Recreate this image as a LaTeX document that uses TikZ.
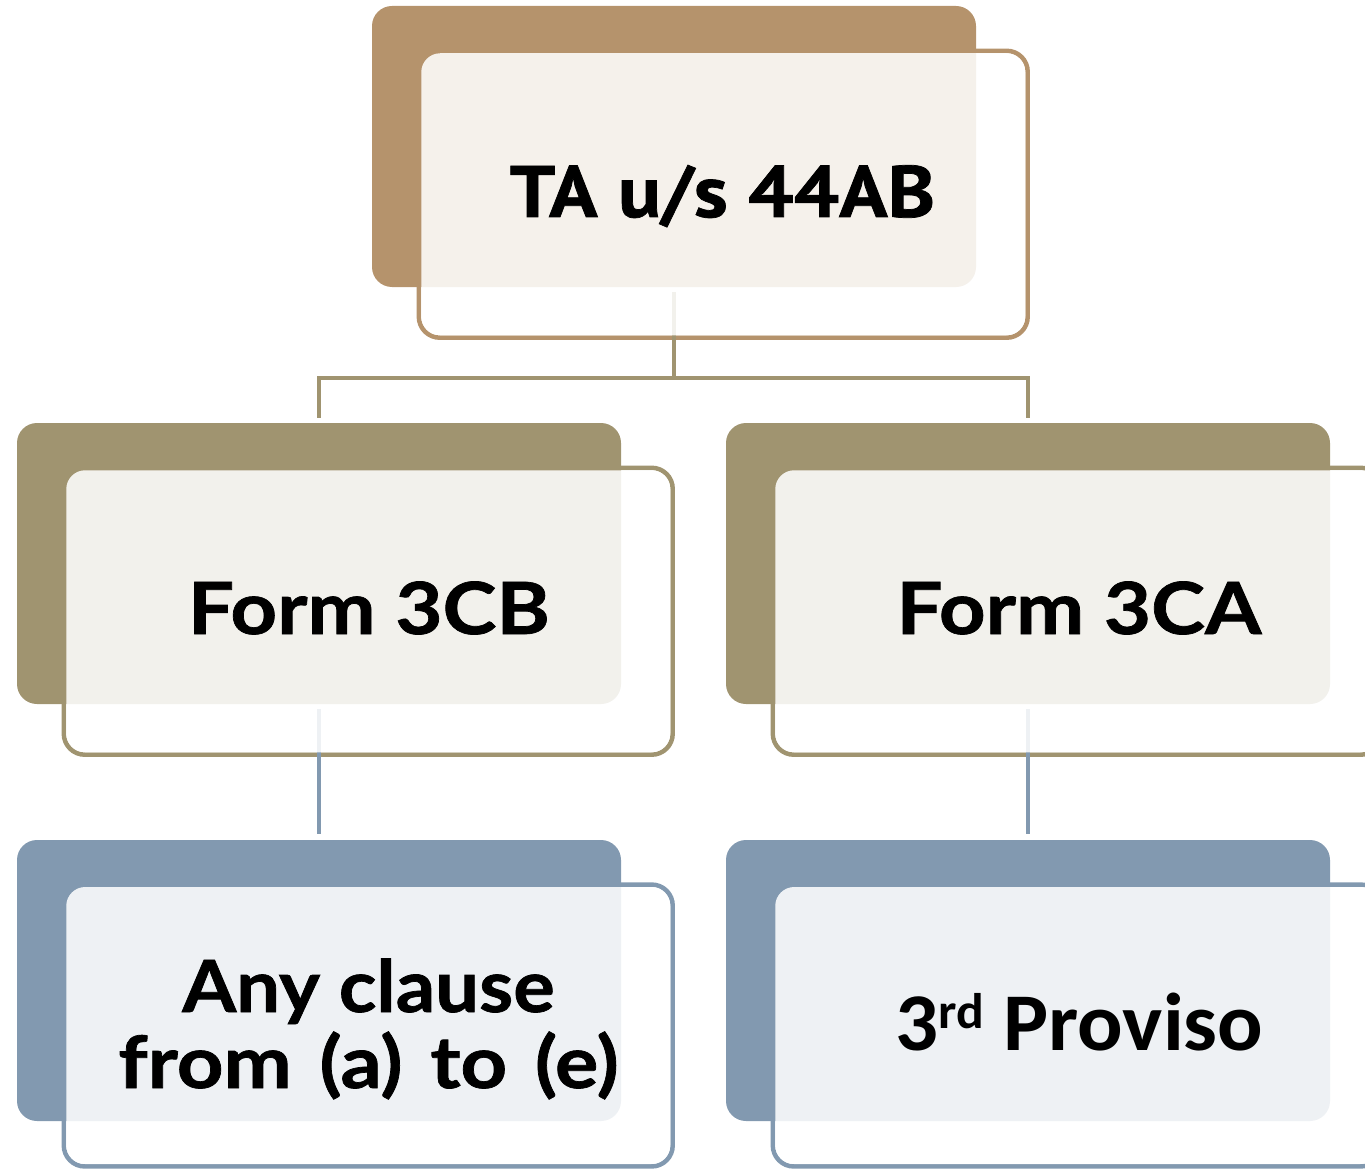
\documentclass[tikz,border=0pt]{standalone}
\usepackage{fontspec}
\setmainfont{Lato}
\newfontfamily\ptwide{PT Sans}[FakeStretch=1.1, BoldFeatures={FakeBold=1}]
\newfontfamily\latowide{Lato}[FakeStretch=1.13, BoldFeatures={FakeBold=1}]
\newfontfamily\latomid{Lato}[FakeStretch=1.08, BoldFeatures={FakeBold=1}]
\newfontfamily\carlwide{Carlito}[FakeStretch=1.035]
\usetikzlibrary{calc}
\definecolor{brownc}{RGB}{181,147,108}
\definecolor{olivec}{RGB}{160,148,112}
\definecolor{bluec}{RGB}{130,153,176}
\pgfdeclarelayer{borders}
\pgfdeclarelayer{backs}
\pgfdeclarelayer{links}
\pgfsetlayers{borders,backs,links,main}
\begin{document}
\begin{tikzpicture}[x=1pt,y=-1pt,
  backbox/.style={rectangle, rounded corners=20pt, minimum width=604pt, minimum height=281pt, inner sep=0pt, draw=none},
  frontbox/.style={rectangle, rounded corners=19pt, minimum width=604pt, minimum height=282pt, inner sep=0pt, fill=white, fill opacity=0.87, draw=none},
  frame/.style={line width=4.5pt, rounded corners=21pt},
  link/.style={line width=4.5pt},
  txt/.style={inner sep=0pt, anchor=base, text=black, font=\bfseries}
]
\useasboundingbox (0,0) rectangle (1365,1169);
\clip (0,0) rectangle (1365,1169);

% fronts (tinted, on main layer)
\node[frontbox] (f1) at (723.25,194.25) {};
\node[frontbox] (f2) at (368.25,611.25) {};
\node[frontbox] (f3) at (1077.25,611.25) {};
\node[frontbox, minimum height=277pt] (f4) at (368.25,1025.5) {};
\node[frontbox, minimum height=277pt] (f5) at (1077.25,1025.5) {};

% borders of fronts (bottom layer)
\begin{pgfonlayer}{borders}
\draw[frame, brownc] ($(f1.north west)+(-2.25,-2.25)$) rectangle ($(f1.south east)+(2.25,2.25)$);
\draw[frame, olivec] ($(f2.north west)+(-2.25,-2.25)$) rectangle ($(f2.south east)+(2.25,2.25)$);
\draw[frame, olivec] ($(f3.north west)+(-2.25,-2.25)$) rectangle ($(f3.south east)+(2.25,2.25)$);
\draw[frame, bluec] ($(f4.north west)+(-2.25,-2.25)$) rectangle ($(f4.south east)+(2.25,2.25)$);
\draw[frame, bluec] ($(f5.north west)+(-2.25,-2.25)$) rectangle ($(f5.south east)+(2.25,2.25)$);
\end{pgfonlayer}

% backs
\begin{pgfonlayer}{backs}
\node[backbox, fill=brownc] (b1) at (674,146.5) {};
\node[backbox, fill=olivec] (b2) at (319,563.5) {};
\node[backbox, fill=olivec] (b3) at (1028,563.5) {};
\node[backbox, fill=bluec] (b4) at (319,980.5) {};
\node[backbox, fill=bluec] (b5) at (1028,980.5) {};
\end{pgfonlayer}

% connectors
\begin{pgfonlayer}{links}
\coordinate (j) at ($(b1.south)+(0,91)$);
\draw[link, olivec] ($(b1.south)+(0,5)$) -- (j) -| ($(b2.north)+(0,-5)$);
\draw[link, olivec] (j) -| ($(b3.north)+(0,-5)$);
\draw[link, bluec] ($(b2.south)+(0,5)$) -- ($(b4.north)+(0,-6)$);
\draw[link, bluec] ($(b3.south)+(0,5)$) -- ($(b5.north)+(0,-6)$);
\end{pgfonlayer}

% texts
\node[txt, font=\ptwide\bfseries\fontsize{73}{73}\selectfont] (t1) at (722.5,217) {TA u/s 44AB};
\node[txt, font=\latowide\bfseries\fontsize{72}{72}\selectfont] (t2) at (369,634) {Form 3CB};
\node[txt, font=\latowide\bfseries\fontsize{72}{72}\selectfont] (t3) at (1079,634) {Form 3CA};
\node[txt, align=center, font=\bfseries\fontsize{72}{76}\selectfont] (t4) at (368.5,1088) {{\latomid Any clause}\\{\latowide from\hspace{8pt} (a)\hspace{8pt} to\hspace{8pt} (e)}};
\node[txt, font=\carlwide\bfseries\fontsize{82}{82}\selectfont] (t5) at (1079.5,1050) {3\raisebox{22pt}{\fontsize{50}{50}\selectfont rd} Proviso};
\end{tikzpicture}
\end{document}
